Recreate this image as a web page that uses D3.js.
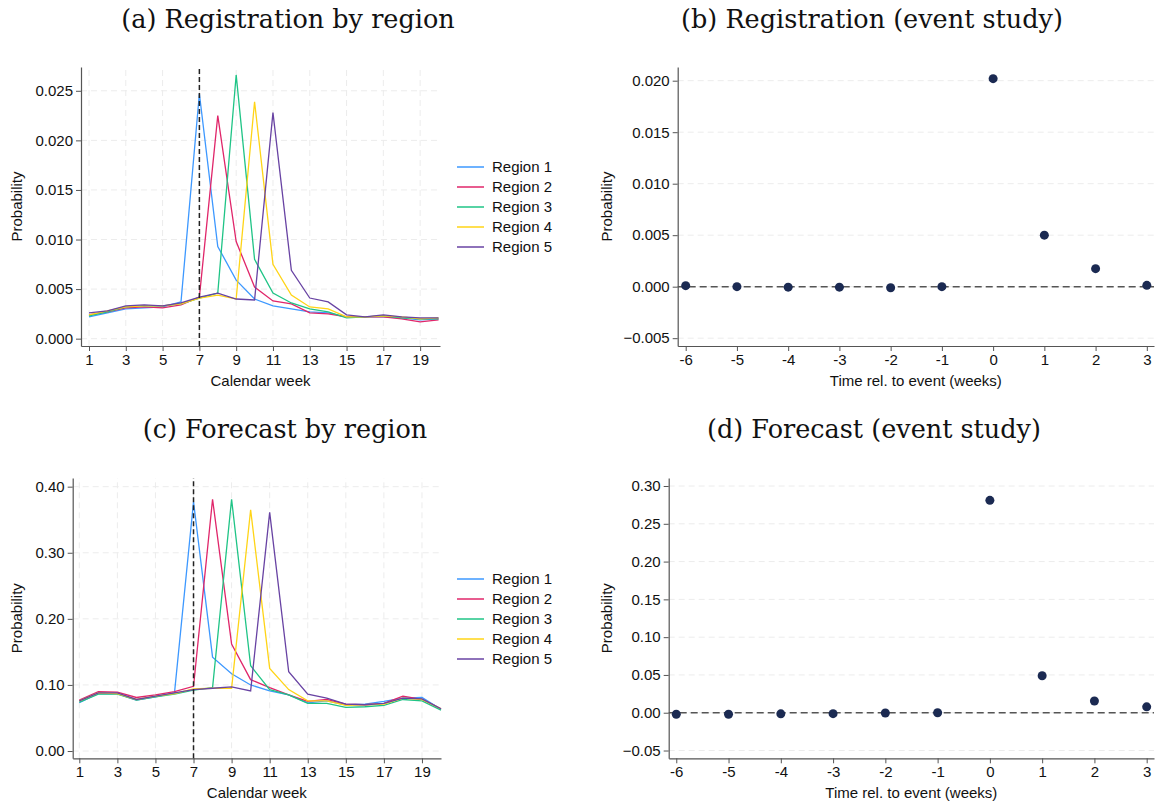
<!DOCTYPE html>
<html>
<head>
<meta charset="utf-8">
<script src="https://cdn.jsdelivr.net/npm/d3@7"></script>
<style>
  body { margin: 0; background: #fff; }
  svg text { font-family: 'Liberation Sans', Arial, sans-serif; }
</style>
</head>
<body>
<div id="chart"></div>
<script>
// --- data ---
const weeks = [1, 2, 3, 4, 5, 6, 7, 8, 9, 10, 11, 12, 13, 14, 15, 16, 17, 18, 19, 20]
const regionNames = ['Region 1', 'Region 2', 'Region 3', 'Region 4', 'Region 5']
const regionColors = ['#3d98ff', '#e0266a', '#1fc486', '#ffd416', '#6843a3']

const regRegion1 = [0.0022, 0.0026, 0.0030, 0.0031, 0.0032, 0.0037, 0.0247, 0.0093, 0.0059, 0.0040, 0.0033, 0.0030, 0.0027, 0.0026, 0.0022, 0.0022, 0.0022, 0.0021, 0.0019, 0.0020]
const regRegion2 = [0.0024, 0.0027, 0.0031, 0.0032, 0.0031, 0.0034, 0.0042, 0.0225, 0.0098, 0.0052, 0.0038, 0.0035, 0.0026, 0.0025, 0.0022, 0.0022, 0.0022, 0.0020, 0.0017, 0.0019]
const regRegion3 = [0.0023, 0.0027, 0.0032, 0.0033, 0.0033, 0.0035, 0.0041, 0.0046, 0.0266, 0.0080, 0.0046, 0.0036, 0.0030, 0.0027, 0.0021, 0.0022, 0.0023, 0.0021, 0.0020, 0.0020]
const regRegion4 = [0.0024, 0.0028, 0.0032, 0.0033, 0.0033, 0.0035, 0.0041, 0.0044, 0.0040, 0.0239, 0.0075, 0.0044, 0.0032, 0.0030, 0.0022, 0.0022, 0.0023, 0.0022, 0.0020, 0.0021]
const regRegion5 = [0.0026, 0.0028, 0.0033, 0.0034, 0.0033, 0.0036, 0.0042, 0.0046, 0.0040, 0.0039, 0.0228, 0.0069, 0.0041, 0.0037, 0.0024, 0.0022, 0.0024, 0.0022, 0.0021, 0.0021]

const fcRegion1 = [0.073, 0.087, 0.087, 0.077, 0.082, 0.088, 0.377, 0.142, 0.117, 0.100, 0.091, 0.085, 0.073, 0.076, 0.070, 0.071, 0.075, 0.080, 0.081, 0.063]
const fcRegion2 = [0.077, 0.090, 0.089, 0.081, 0.085, 0.090, 0.098, 0.381, 0.162, 0.108, 0.096, 0.085, 0.075, 0.078, 0.071, 0.070, 0.072, 0.083, 0.078, 0.064]
const fcRegion3 = [0.074, 0.086, 0.086, 0.077, 0.082, 0.086, 0.092, 0.096, 0.381, 0.129, 0.093, 0.085, 0.072, 0.072, 0.066, 0.067, 0.069, 0.078, 0.076, 0.062]
const fcRegion4 = [0.076, 0.088, 0.087, 0.078, 0.083, 0.087, 0.094, 0.095, 0.095, 0.365, 0.125, 0.093, 0.076, 0.076, 0.069, 0.070, 0.071, 0.080, 0.078, 0.064]
const fcRegion5 = [0.076, 0.088, 0.088, 0.078, 0.083, 0.088, 0.093, 0.095, 0.097, 0.091, 0.361, 0.120, 0.086, 0.080, 0.071, 0.070, 0.072, 0.080, 0.079, 0.064]

const eventTimes = [-6, -5, -4, -3, -2, -1, 0, 1, 2, 3]
const regEvent = [0.0001, 0.0000, -0.00005, -0.00005, -0.0001, 0.0000, 0.0202, 0.0050, 0.00175, 0.00013]
const fcEvent = [-0.002, -0.002, -0.0015, -0.0012, -0.0004, 0.0000, 0.281, 0.049, 0.0155, 0.0078]

const weekTicks = [1, 3, 5, 7, 9, 11, 13, 15, 17, 19]
const regTicks = [0, 0.005, 0.01, 0.015, 0.02, 0.025]
const fcTicks = [0, 0.1, 0.2, 0.3, 0.4]
const regEventTicks = [-0.005, 0, 0.005, 0.01, 0.015, 0.02]
const fcEventTicks = [-0.05, 0, 0.05, 0.1, 0.15, 0.2, 0.25, 0.3]

const svg = d3
  .select('#chart')
  .append('svg')
  .attr('width', 1156)
  .attr('height', 803)

function addAxes(g, x, y, opts) {
  const [x0, x1] = x.range()
  const [y0, y1] = y.range()

  // grid
  g.selectAll('.hgrid')
    .data(opts.yTicks)
    .enter()
    .append('line')
    .attr('x1', x0)
    .attr('x2', x1)
    .attr('y1', d => y(d))
    .attr('y2', d => y(d))
    .attr('stroke', '#ececec')
    .attr('stroke-dasharray', '6,4')
  if (opts.vgrid) {
    g.selectAll('.vgrid')
      .data(opts.xTicks)
      .enter()
      .append('line')
      .attr('x1', d => x(d))
      .attr('x2', d => x(d))
      .attr('y1', y0)
      .attr('y2', y1)
      .attr('stroke', '#ececec')
      .attr('stroke-dasharray', '6,4')
  }

  const yAxis = g
    .append('g')
    .attr('transform', `translate(${x0},0)`)
    .call(
      d3
        .axisLeft(y)
        .tickValues(opts.yTicks)
        .tickFormat(d3.format(opts.yFormat))
        .tickSize(5)
        .tickSizeOuter(0)
    )
  const xAxis = g
    .append('g')
    .attr('transform', `translate(0,${y0})`)
    .call(
      d3
        .axisBottom(x)
        .tickValues(opts.xTicks)
        .tickFormat(d => (d < 0 ? '-' + Math.abs(d) : d))
        .tickSize(5)
        .tickSizeOuter(0)
    )
  ;[yAxis, xAxis].forEach(a => {
    a.select('.domain').attr('stroke', '#555').attr('stroke-width', 1.2)
    a.selectAll('.tick line').attr('stroke', '#555')
    a.selectAll('.tick text')
      .style('font-size', '15px')
      .attr('fill', '#111')
  })

  g.append('text')
    .text('Probability')
    .attr('transform', `translate(${opts.ylabelX},${(y0 + y1) / 2}) rotate(-90)`)
    .attr('text-anchor', 'middle')
    .attr('dy', '0.35em')
    .style('font-size', '15px')
    .attr('fill', '#111')

  g.append('text')
    .text(opts.xLabel)
    .attr('x', (x0 + x1) / 2)
    .attr('y', y0 + 40)
    .attr('text-anchor', 'middle')
    .style('font-size', '15px')
    .attr('fill', '#111')
}

function title(text, cx, y) {
  svg
    .append('text')
    .text(text)
    .attr('x', cx)
    .attr('y', y)
    .attr('text-anchor', 'middle')
    .style('font-family', "'DejaVu Serif', serif")
    .style('font-size', '25.5px')
    .attr('fill', '#111')
}

function regionPanel(series, xRange, xDomain, yRange, yDomain, ticks, fmt, legendTop) {
  const g = svg.append('g')
  const x = d3.scaleLinear().domain(xDomain).range(xRange)
  const y = d3.scaleLinear().domain(yDomain).range(yRange)

  addAxes(g, x, y, {
    xTicks: weekTicks,
    yTicks: ticks,
    yFormat: fmt,
    vgrid: true,
    xLabel: 'Calendar week',
    ylabelX: 17
  })

  const line = d3
    .line()
    .x((d, i) => x(weeks[i]))
    .y(d => y(d))

  g.selectAll('.region-line')
    .data(series)
    .enter()
    .append('path')
    .attr('d', line)
    .attr('fill', 'none')
    .attr('stroke', (d, i) => regionColors[i])
    .attr('stroke-width', 1.3)

  // event week marker
  g.append('line')
    .attr('x1', x(7))
    .attr('x2', x(7))
    .attr('y1', yRange[0])
    .attr('y2', yRange[1])
    .attr('stroke', '#222')
    .attr('stroke-width', 1.5)
    .attr('stroke-dasharray', '5,3')

  const legend = g
    .selectAll('.legend')
    .data(regionNames)
    .enter()
    .append('g')
    .attr('transform', (d, i) => `translate(457,${legendTop + i * 20})`)
  legend
    .append('line')
    .attr('x1', 0)
    .attr('x2', 27)
    .attr('stroke', (d, i) => regionColors[i])
    .attr('stroke-width', 1.5)
  legend
    .append('text')
    .text(d => d)
    .attr('x', 35)
    .attr('dy', '0.35em')
    .style('font-size', '15px')
    .attr('fill', '#111')
}

function eventPanel(values, xRange, xDomain, yRange, yDomain, ticks, fmt, ylabelX) {
  const g = svg.append('g')
  const x = d3.scaleLinear().domain(xDomain).range(xRange)
  const y = d3.scaleLinear().domain(yDomain).range(yRange)

  addAxes(g, x, y, {
    xTicks: eventTimes,
    yTicks: ticks,
    yFormat: fmt,
    vgrid: false,
    xLabel: 'Time rel. to event (weeks)',
    ylabelX: ylabelX
  })

  g.append('line')
    .attr('x1', xRange[0])
    .attr('x2', xRange[1])
    .attr('y1', y(0))
    .attr('y2', y(0))
    .attr('stroke', '#555')
    .attr('stroke-width', 1.5)
    .attr('stroke-dasharray', '7,4')

  g.selectAll('.dot')
    .data(values)
    .enter()
    .append('circle')
    .attr('cx', (d, i) => x(eventTimes[i]))
    .attr('cy', d => y(d))
    .attr('r', 4.5)
    .attr('fill', '#1b2a52')
}

title('(a) Registration by region', 288, 28)
title('(b) Registration (event study)', 872, 28)
title('(c) Forecast by region', 285, 438)
title('(d) Forecast (event study)', 874, 438)

regionPanel(
  [regRegion1, regRegion2, regRegion3, regRegion4, regRegion5],
  [81, 440], [0.565, 20.08],
  [346, 67], [-0.00074, 0.0274],
  regTicks, '.3f', 167
)
regionPanel(
  [fcRegion1, fcRegion2, fcRegion3, fcRegion4, fcRegion5],
  [72.7, 441], [0.653, 20.0],
  [758.3, 478], [-0.011, 0.4131],
  fcTicks, '.2f', 579
)
eventPanel(regEvent, [677.7, 1154], [-6.156, 3.14], [346, 67], [-0.00576, 0.02133], regEventTicks, '.3f', 607)
eventPanel(fcEvent, [668.7, 1154], [-6.145, 3.14], [758.3, 478], [-0.0603, 0.3106], fcEventTicks, '.2f', 607)
</script>
</body>
</html>
